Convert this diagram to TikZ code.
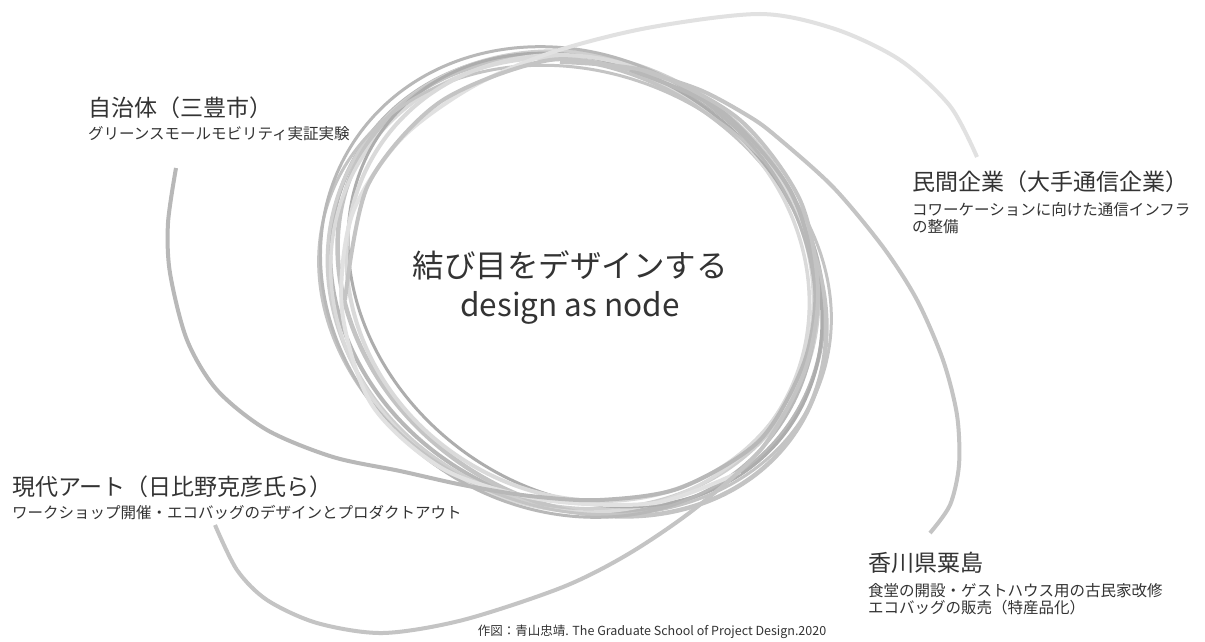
\documentclass[tikz,border=0pt]{standalone}
\usepackage{fontspec}
\setmainfont{Noto Sans CJK JP}
\definecolor{ink}{HTML}{333333}
\definecolor{gA}{HTML}{ADADAD}
\definecolor{gB}{HTML}{B8B8B8}
\definecolor{gC}{HTML}{C4C4C4}
\definecolor{gD}{HTML}{CFCFCF}
\definecolor{gE}{HTML}{DADADA}
\begin{document}
\begin{tikzpicture}[x=1pt,y=-1pt,
  title/.style={anchor=base west, inner sep=0pt, text=ink, font=\fontsize{23}{27}\selectfont},
  sub/.style={anchor=base west, inner sep=0pt, text=ink, font=\fontsize{15.5}{18}\selectfont},
  centre/.style={anchor=base, inner sep=0pt, text=ink, font=\fontsize{31.5}{36}\selectfont},
  loop/.style={line width=#1, line cap=butt},
  tail/.style={line width=4, line cap=butt}]
\useasboundingbox[fill=white] (0,0) rectangle (1205,642);

% the knot: several slightly different tilted loops
\draw[loop=4,   gB, rotate around={-30:(577,283)}] (577,283) ellipse [x radius=255, y radius=220];
\draw[loop=3.5, gD, rotate around={-25:(573,280)}] (573,280) ellipse [x radius=250, y radius=224];
\draw[loop=4.5, gC, rotate around={-35:(582,287)}] (582,287) ellipse [x radius=258, y radius=214];
\draw[loop=3.5, gE, rotate around={-28:(570,285)}] (570,285) ellipse [x radius=244, y radius=222];
\draw[loop=3,   gA, rotate around={-38:(585,280)}] (585,280) ellipse [x radius=252, y radius=210];
\draw[loop=3,   gC, rotate around={-22:(575,290)}] (575,290) ellipse [x radius=262, y radius=218];
\draw[loop=4,   gE, rotate around={-32:(580,278)}] (580,278) ellipse [x radius=240, y radius=216];
\draw[loop=3,   gB, rotate around={-33:(568,282)}] (568,282) ellipse [x radius=256, y radius=226];

% strands that leave the knot
\draw[tail, gE!80!white] plot[smooth] coordinates {(740,472) (655,503) (545,500) (445,470) (372,405) (342,310) (352,215) (400,140) (470,88) (550,53) (647,28) (760,14) (835,29) (900,60) (950,106) (977,157)};
\draw[tail, gC] plot[smooth] coordinates {(345,300) (368,185) (440,102) (550,60) (640,72) (700,90) (750,117) (777,137) (833,187) (883,247) (917,300) (943,360) (957,415) (959,465) (950,505) (930,533)};
\draw[tail, gB] plot[smooth] coordinates {(176,168) (168,223) (170,273) (187,340) (217,390) (267,430) (333,457) (400,471) (463,485) (530,496) (600,500) (680,488) (760,440) (805,360) (815,280) (790,190) (720,110) (630,70)};
\draw[tail, gC] plot[smooth] coordinates {(215,525) (237,570) (267,600) (317,623) (383,633) (463,620) (563,587) (630,553) (697,507) (763,447) (805,370) (818,290) (800,200) (740,120) (650,72) (560,62)};

% centre
\node[centre] (knot) at (570,277) {結び目をデザインする};
\node[centre] (knoten) at (570,316) {design as node};

% partners
\node[title] (city) at (88,117) {自治体（三豊市）};
\node[sub] (citysub) at (88,139) {グリーンスモールモビリティ実証実験};

\node[title] (corp) at (912,190) {民間企業（大手通信企業）};
\node[sub] (corpsubA) at (912,215) {コワーケーションに向けた通信インフラ};
\node[sub] (corpsubB) at (912,232) {の整備};

\node[title] (art) at (12,495) {現代アート（日比野克彦氏ら）};
\node[sub] (artsub) at (12,518) {ワークショップ開催・エコバッグのデザインとプロダクトアウト};

\node[title] (island) at (868,571) {香川県粟島};
\node[sub] (islandsubA) at (868,596) {食堂の開設・ゲストハウス用の古民家改修};
\node[sub] (islandsubB) at (868,613) {エコバッグの販売（特産品化）};

\node[anchor=base, inner sep=0pt, text=ink, font=\fontsize{12.5}{15}\selectfont] (credit) at (652,635) {作図：青山忠靖. The Graduate School of Project Design.2020};
\end{tikzpicture}
\end{document}
